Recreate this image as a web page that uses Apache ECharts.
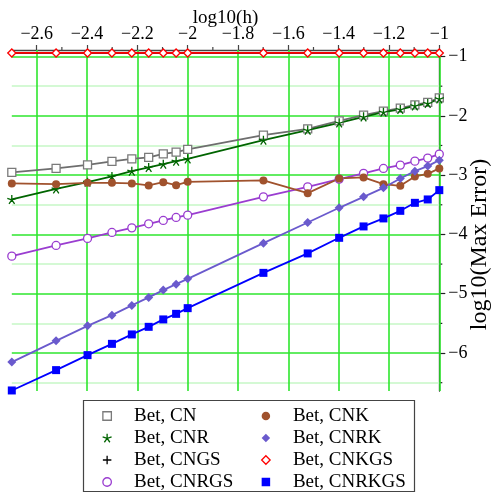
<!DOCTYPE html>
<html>
<head>
<meta charset="utf-8">
<script src="https://cdn.jsdelivr.net/npm/echarts@6/dist/echarts.min.js"></script>
<style>
  html, body { margin: 0; padding: 0; background: #fff; }
  #chart { width: 491px; height: 496px; }
</style>
</head>
<body>
<div id="chart"></div>
<script>
// step sizes h = 0.002 .. 0.01 and 0.02 .. 0.1, as log10(h)
const logH = [-2.699, -2.523, -2.398, -2.301, -2.222, -2.155, -2.097, -2.046, -2.0,
              -1.699, -1.523, -1.398, -1.301, -1.222, -1.155, -1.097, -1.046, -1.0];

// log10 of the maximum error for each scheme
const errCN     = [-2.954, -2.887, -2.826, -2.769, -2.725, -2.702, -2.641, -2.612, -2.567,
                   -2.325, -2.219, -2.084, -1.988, -1.921, -1.870, -1.815, -1.774, -1.696];
const errCNR    = [-3.410, -3.231, -3.118, -3.022, -2.933, -2.870, -2.815, -2.764, -2.725,
                   -2.410, -2.241, -2.118, -2.017, -1.938, -1.892, -1.831, -1.791, -1.713];
const errCNGS   = [-0.94, -0.94, -0.94, -0.94, -0.94, -0.94, -0.94, -0.94, -0.94,
                   -0.94, -0.94, -0.94, -0.94, -0.94, -0.94, -0.94, -0.94, -0.94];
const errCNRGS  = [-4.366, -4.186, -4.067, -3.966, -3.889, -3.821, -3.764, -3.713, -3.675,
                   -3.366, -3.197, -3.067, -2.971, -2.887, -2.831, -2.764, -2.713, -2.646];
const errCNK    = [-3.140, -3.152, -3.130, -3.130, -3.140, -3.174, -3.118, -3.169, -3.113,
                   -3.089, -3.304, -3.056, -3.039, -3.152, -3.180, -3.022, -2.978, -2.887];
const errCNRK   = [-6.153, -5.794, -5.541, -5.361, -5.197, -5.062, -4.939, -4.838, -4.749,
                   -4.147, -3.798, -3.551, -3.366, -3.214, -3.056, -2.933, -2.848, -2.747];
const errCNKGS  = [-0.94, -0.94, -0.94, -0.94, -0.94, -0.94, -0.94, -0.94, -0.94,
                   -0.94, -0.94, -0.94, -0.94, -0.94, -0.94, -0.94, -0.94, -0.94];
const errCNRKGS = [-6.631, -6.288, -6.035, -5.845, -5.686, -5.558, -5.433, -5.339, -5.243,
                   -4.648, -4.320, -4.057, -3.865, -3.730, -3.602, -3.467, -3.410, -3.253];

// axis ticks
const xTicks = [-2.6, -2.4, -2.2, -2.0, -1.8, -1.6, -1.4, -1.2, -1.0];
const xMinorTicks = [-2.5, -2.3, -2.1, -1.9, -1.7, -1.5, -1.3, -1.1];
const yTicks = [-6, -5, -4, -3, -2, -1];
const yMinorTicks = [-6.5, -5.5, -4.5, -3.5, -2.5, -1.5];

const X_MIN = -2.699, X_MAX = -1.0;
const Y_MIN = -6.64, Y_MAX = -0.89;

const FONT = '"Liberation Serif", "Times New Roman", serif';
const SYM = {
  square:  'path://M0,0H10V10H0Z',
  circle:  'path://M5,0A5,5,0,1,1,5,10A5,5,0,1,1,5,0Z',
  diamond: 'path://M5,0L10,5L5,10L0,5Z',
  star:    'path://M5,0L5,5M0.24,3.45L5,5M2.06,9.05L5,5M7.94,9.05L5,5M9.76,3.45L5,5',
  plus:    'path://M0,5L10,5M5,0L5,10'
};

const schemes = [
  { name: 'Bet, CN',     data: errCN,     color: '#6e6e6e', sym: SYM.square,  hollow: true,  mark: '#7a7a7a', size: 8 },
  { name: 'Bet, CNR',    data: errCNR,    color: '#006400', sym: SYM.star,    stroke: true,  mark: '#006400', size: 9 },
  { name: 'Bet, CNGS',   data: errCNGS,   color: '#000000', sym: SYM.plus,    stroke: true,  mark: '#000000', size: 8 },
  { name: 'Bet, CNRGS',  data: errCNRGS,  color: '#9a3dd0', sym: SYM.circle,  hollow: true,  mark: '#9a3dd0', size: 8 },
  { name: 'Bet, CNK',    data: errCNK,    color: '#a0522d', sym: SYM.circle,  mark: '#a0522d', size: 8 },
  { name: 'Bet, CNRK',   data: errCNRK,   color: '#6a5acd', sym: SYM.diamond, mark: '#6a5acd', size: 9 },
  { name: 'Bet, CNKGS',  data: errCNKGS,  color: '#ff0000', sym: SYM.diamond, hollow: true,  mark: '#ff0000', size: 8 },
  { name: 'Bet, CNRKGS', data: errCNRKGS, color: '#0000ff', sym: SYM.square,  mark: '#0000ff', size: 8 }
];

function markStyle(s) {
  if (s.hollow) return { color: '#ffffff', borderColor: s.mark, borderWidth: 1.3 };
  if (s.stroke) return { color: 'transparent', borderColor: s.mark, borderWidth: 1.3 };
  return { color: s.mark, borderWidth: 0 };
}

const seriesList = schemes.map(s => ({
  type: 'line',
  name: s.name,
  data: logH.map((x, i) => [x, s.data[i]]),
  symbol: s.sym,
  symbolSize: s.size,
  showSymbol: true,
  lineStyle: { color: s.color, width: 1.8 },
  itemStyle: markStyle(s),
  emphasis: { disabled: true },
  z: 3
}));

// green grid lines drawn through the axis scales
const majorGrid = { color: '#2ee62e', width: 1.6, type: 'solid' };
const minorGrid = { color: '#c6f7c6', width: 1.6, type: 'solid' };
seriesList.unshift({
  type: 'line',
  name: '__grid',
  data: [],
  silent: true,
  z: 1,
  markLine: {
    silent: true,
    symbol: 'none',
    animation: false,
    z: 1,
    label: { show: false },
    emphasis: { disabled: true },
    data: [
      ...yMinorTicks.map(v => ({ yAxis: v, lineStyle: minorGrid })),
      ...xTicks.map(v => ({ xAxis: v, lineStyle: majorGrid })),
      ...yTicks.map(v => ({ yAxis: v, lineStyle: majorGrid }))
    ]
  }
});

function legendItem(s) {
  return { name: s.name, icon: s.sym, itemStyle: markStyle(s) };
}

const legendCommon = {
  orient: 'vertical',
  padding: 0,
  height: 90,
  itemWidth: 44,
  itemHeight: 8.5,
  itemGap: 3,
  symbolKeepAspect: true,
  selectedMode: false,
  textStyle: { fontFamily: FONT, fontSize: 19, color: '#000' }
};

const minusLabel = v => (v < 0 ? '\u2212' : '') + String(Math.round(Math.abs(v) * 10) / 10);

const chart = echarts.init(document.getElementById('chart'), null, { renderer: 'canvas' });
chart.setOption({
  animation: false,
  backgroundColor: '#ffffff',
  grid: { left: 11.8, right: 51.7, top: 50, bottom: 105, containLabel: false, outerBoundsMode: 'none' },
  xAxis: {
    type: 'value',
    position: 'top',
    min: X_MIN,
    max: X_MAX,
    axisLine: { show: true, onZero: false, lineStyle: { color: '#444', width: 1.3 } },
    axisTick: { show: true, length: 5, customValues: xTicks, lineStyle: { color: '#444', width: 1.2 } },
    axisLabel: {
      customValues: xTicks, margin: 7, formatter: minusLabel,
      fontFamily: FONT, fontSize: 18, color: '#000'
    },
    splitLine: { show: false },
    name: 'log10(h)',
    nameLocation: 'middle',
    nameGap: 22,
    nameMoveOverlap: false,
    nameTextStyle: { fontFamily: FONT, fontSize: 19, color: '#000' }
  },
  yAxis: {
    type: 'value',
    position: 'right',
    min: Y_MIN,
    max: Y_MAX,
    axisLine: { show: true, onZero: false, lineStyle: { color: '#222', width: 1.3 } },
    axisTick: { show: true, length: 6, customValues: yTicks, lineStyle: { color: '#222', width: 1.2 } },
    axisLabel: {
      customValues: yTicks, margin: 9, formatter: minusLabel,
      fontFamily: FONT, fontSize: 18, color: '#000'
    },
    splitLine: { show: false },
    name: 'log10(Max Error)',
    nameLocation: 'middle',
    nameRotate: 90,
    nameGap: 28,
    nameMoveOverlap: false,
    nameTextStyle: { fontFamily: FONT, fontSize: 24, color: '#000', padding: [0, 48, 0, 0] }
  },
  legend: [
    Object.assign({}, legendCommon, { left: 102, top: 406.5, data: [0, 1, 2, 3].map(i => legendItem(schemes[i])) }),
    Object.assign({}, legendCommon, { left: 261, top: 406.5, data: [4, 5, 6, 7].map(i => legendItem(schemes[i])) })
  ],
  series: seriesList
});

// minor ticks on both axes and the legend frame
const elements = [{
  type: 'rect',
  shape: { x: 83.5, y: 400.5, width: 331, height: 91 },
  style: { fill: 'none', stroke: '#444', lineWidth: 1.2 },
  silent: true
}];
xMinorTicks.forEach(v => {
  const p = chart.convertToPixel({ xAxisIndex: 0, yAxisIndex: 0 }, [v, Y_MAX]);
  elements.push({ type: 'line', shape: { x1: p[0], y1: p[1], x2: p[0], y2: p[1] - 3 },
                  style: { stroke: '#444', lineWidth: 1.2 }, silent: true });
});
yMinorTicks.forEach(v => {
  const p = chart.convertToPixel({ xAxisIndex: 0, yAxisIndex: 0 }, [X_MAX, v]);
  elements.push({ type: 'line', shape: { x1: p[0], y1: p[1], x2: p[0] + 3, y2: p[1] },
                  style: { stroke: '#222', lineWidth: 1.2 }, silent: true });
});
chart.setOption({ graphic: { elements: elements } });
</script>
</body>
</html>
